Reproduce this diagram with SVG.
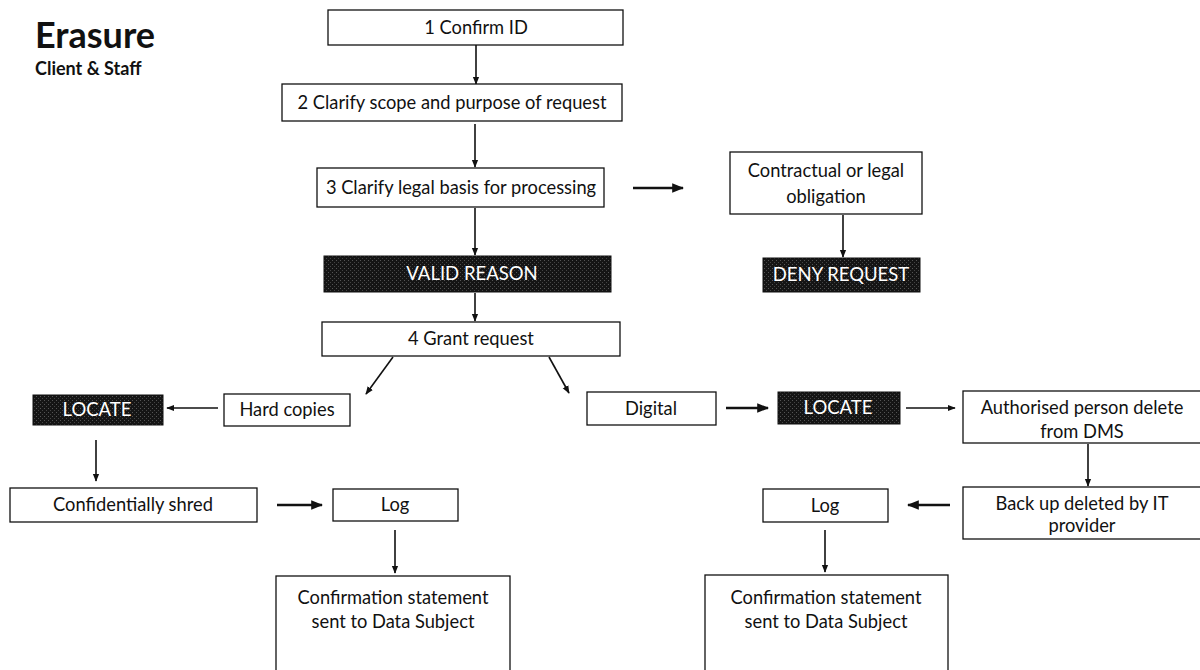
<svg xmlns="http://www.w3.org/2000/svg" width="1200" height="670" viewBox="0 0 1200 670">
<style>
  .box{fill:#fff;stroke:#111;stroke-width:1.3}
  .dark{fill:url(#dither);stroke:#111;stroke-width:1}
  .t{font-family:Lato,"Liberation Sans",sans-serif;font-size:18.3px;fill:#111;text-anchor:middle}
  .w{font-family:Lato,"Liberation Sans",sans-serif;font-size:18.5px;fill:#fff;text-anchor:middle}
  .c{stroke:#111;stroke-width:1.6;fill:none;marker-end:url(#ah)}
  .thick{stroke-width:2.4}
</style>
<defs>
  <marker id="ah" viewBox="0 0 10 10" refX="9" refY="5" markerWidth="5" markerHeight="5" orient="auto" markerUnits="strokeWidth">
    <path d="M0,1 L10,5 L0,9 z" fill="#111"/>
  </marker>
  <pattern id="dither" width="4" height="4" patternUnits="userSpaceOnUse">
    <rect width="4" height="4" fill="#151515"/>
    <rect x="0" y="0" width="1" height="1" fill="#555"/>
    <rect x="2" y="2" width="1" height="1" fill="#444"/>
  </pattern>
</defs>
<rect width="1200" height="670" fill="#fff"/>
<g id="title">
  <text x="35" y="48" font-family="Lato,'Liberation Sans',sans-serif" font-weight="bold" font-size="36" fill="#111">Erasure</text>
  <text x="35" y="75" font-family="Lato,'Liberation Sans',sans-serif" font-weight="bold" font-size="18" fill="#111">Client &amp; Staff</text>
</g>
<g id="connectors">
  <line class="c" x1="476" y1="45" x2="476" y2="84"/>
  <line class="c" x1="475" y1="124" x2="475" y2="167"/>
  <line class="c thick" x1="633" y1="188" x2="683" y2="188"/>
  <line class="c" x1="843" y1="215" x2="843" y2="257"/>
  <line class="c" x1="475" y1="208" x2="475" y2="255"/>
  <line class="c" x1="475" y1="293" x2="475" y2="321"/>
  <line class="c" x1="393" y1="357" x2="366" y2="394"/>
  <line class="c" x1="549" y1="357" x2="569" y2="393"/>
  <line class="c" x1="218" y1="408" x2="167" y2="408"/>
  <line class="c thick" x1="726" y1="408" x2="768" y2="408"/>
  <line class="c" x1="906" y1="408" x2="955" y2="408"/>
  <line class="c" x1="1088" y1="444" x2="1088" y2="486"/>
  <line class="c thick" x1="950" y1="505" x2="908" y2="505"/>
  <line class="c" x1="825" y1="530" x2="825" y2="572"/>
  <line class="c" x1="96" y1="440" x2="96" y2="481"/>
  <line class="c thick" x1="277" y1="505" x2="322" y2="505"/>
  <line class="c" x1="395" y1="530" x2="395" y2="573"/>
</g>
<g id="n1"><rect class="box" x="328" y="10" width="295" height="35"/><text class="t" x="476" y="34">1 Confirm ID</text></g>
<g id="n2"><rect class="box" x="282" y="84" width="340" height="37"/><text class="t" x="452" y="109">2 Clarify scope and purpose of request</text></g>
<g id="n3"><rect class="box" x="317" y="168" width="287" height="39"/><text class="t" x="461" y="194">3 Clarify legal basis for processing</text></g>
<g id="n_contract"><rect class="box" x="730" y="152" width="192" height="62"/><text class="t" x="826" y="177">Contractual or legal</text><text class="t" x="826" y="203">obligation</text></g>
<g id="n_deny"><rect class="dark" x="763" y="258" width="157" height="34"/><text class="w" x="841" y="281">DENY REQUEST</text></g>
<g id="n_valid"><rect class="dark" x="324" y="256" width="287" height="36"/><text class="w" x="472" y="280">VALID REASON</text></g>
<g id="n4"><rect class="box" x="322" y="322" width="298" height="34"/><text class="t" x="471" y="345">4 Grant request</text></g>
<g id="n_hard"><rect class="box" x="224" y="394" width="126" height="32"/><text class="t" x="287" y="416">Hard copies</text></g>
<g id="n_locate1"><rect class="dark" x="33" y="395" width="130" height="30"/><text class="w" x="97" y="416">LOCATE</text></g>
<g id="n_digital"><rect class="box" x="587" y="392" width="129" height="33"/><text class="t" x="651" y="415">Digital</text></g>
<g id="n_locate2"><rect class="dark" x="778" y="392" width="122" height="32"/><text class="w" x="838" y="414">LOCATE</text></g>
<g id="n_auth"><rect class="box" x="963" y="391" width="240" height="52"/><text class="t" x="1082" y="414">Authorised person delete</text><text class="t" x="1082" y="438">from DMS</text></g>
<g id="n_backup"><rect class="box" x="963" y="487" width="240" height="52"/><text class="t" x="1082" y="510">Back up deleted  by IT</text><text class="t" x="1082" y="532">provider</text></g>
<g id="n_log2"><rect class="box" x="763" y="489" width="125" height="33"/><text class="t" x="825" y="512">Log</text></g>
<g id="n_conf2"><rect class="box" x="705" y="575" width="243" height="100"/><text class="t" x="826" y="604">Confirmation statement</text><text class="t" x="826" y="628">sent to Data Subject</text></g>
<g id="n_shred"><rect class="box" x="10" y="488" width="247" height="34"/><text class="t" x="133" y="511">Confidentially shred</text></g>
<g id="n_log1"><rect class="box" x="333" y="489" width="125" height="32"/><text class="t" x="395" y="511">Log</text></g>
<g id="n_conf1"><rect class="box" x="276" y="576" width="234" height="100"/><text class="t" x="393" y="604">Confirmation statement</text><text class="t" x="393" y="628">sent to Data Subject</text></g>
</svg>
